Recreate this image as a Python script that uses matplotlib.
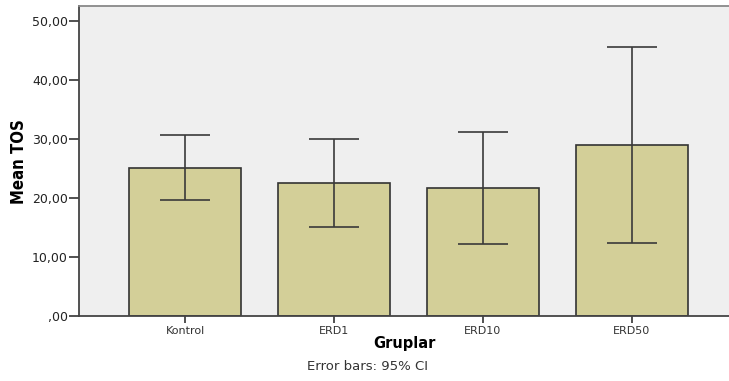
import matplotlib
matplotlib.use("Agg")
import matplotlib.pyplot as plt
from matplotlib.ticker import FuncFormatter

# data
gruplar = ["Kontrol", "ERD1", "ERD10", "ERD50"]
mean_tos = [25.1, 22.5, 21.6, 28.9]
ci_low = [19.6, 15.1, 12.2, 12.4]
ci_high = [30.6, 30.0, 31.1, 45.5]

W, H = 729, 381
fig = plt.figure(figsize=(W / 100, H / 100), dpi=100)
ax = fig.add_axes([79 / W, 1 - 316 / H, 650 / W, 310 / H])
ax.set_facecolor("#efefef")

x = list(range(len(gruplar)))
ax.bar(x, mean_tos, width=112 / 149, color="#d3cf98", edgecolor="#333333",
       linewidth=1.2, zorder=2)
yerr = [[m - lo for m, lo in zip(mean_tos, ci_low)],
        [hi - m for m, hi in zip(mean_tos, ci_high)]]
ax.errorbar(x, mean_tos, yerr=yerr, fmt="none", ecolor="#3a3a3a",
            elinewidth=1.2, capsize=18, capthick=1.2, zorder=3)

ax.set_xlim(-0.715, 3.654)
ax.set_ylim(0, 52.5)
ax.set_xticks(x)
ax.set_xticklabels(gruplar, fontsize=8, color="#222222")
ax.set_yticks([0, 10, 20, 30, 40, 50])
ax.yaxis.set_major_formatter(FuncFormatter(
    lambda v, p: ",00" if v == 0 else f"{v:.2f}".replace(".", ",")))
ax.tick_params(axis="y", length=7, width=1.2, labelsize=9, colors="#333333",
               labelcolor="#222222", pad=1)
ax.tick_params(axis="x", length=5, width=1.2, colors="#333333", pad=2)

for s in ["left", "bottom"]:
    ax.spines[s].set_color("#444444")
    ax.spines[s].set_linewidth(1.3)
ax.spines["top"].set_color("#888888")
ax.spines["top"].set_linewidth(1.3)
ax.spines["right"].set_visible(False)

fig.text(19 / W, 1 - 162 / H, "Mean TOS", rotation=90, ha="center",
         va="center", fontsize=12, fontweight="bold", fontstretch="condensed",
         family=["Liberation Sans Narrow", "DejaVu Sans"])
ax.set_xlabel("Gruplar", fontsize=10.5, fontweight="bold", labelpad=0)

fig.text(368 / W, 1 - 367 / H, "Error bars: 95% CI", ha="center", va="center",
         fontsize=9.5, color="#333333")

fig.savefig("out.png", dpi=100)
